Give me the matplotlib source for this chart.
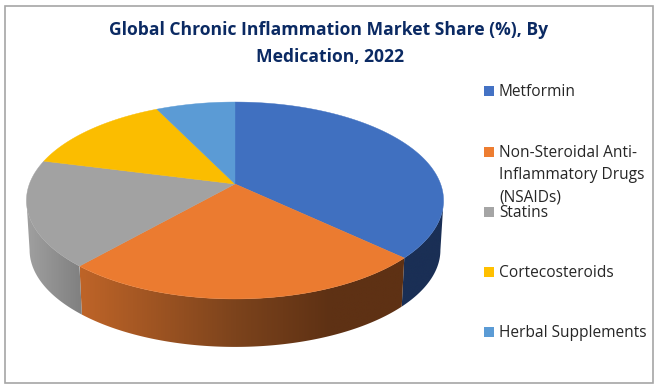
import numpy as np
import matplotlib
matplotlib.use('Agg')
import matplotlib.pyplot as plt
from matplotlib.colors import to_rgb
from matplotlib.patches import Polygon, Rectangle

labels = ['Metformin', 'Non-Steroidal Anti-\nInflammatory Drugs\n(NSAIDs)', 'Statins',
          'Cortecosteroids', 'Herbal Supplements']
shares = [37.0, 24.5, 17.5, 13.8, 7.2]
top_colors = ['#4070C0', '#EB7B30', '#A2A2A2', '#FBBD00', '#5B9BD5']
legend_colors = ['#4472C4', '#ED7D31', '#A5A5A5', '#FFC000', '#5B9BD5']
# wall colour from left to right, in picture x
wall_stops = [
    ([400, 445], ['#1A2F55', '#1A2F55']),
    ([80, 235, 330, 405], ['#BE6428', '#7C431C', '#5E3114', '#5E3114']),
    ([27, 85], ['#A0A0A0', '#7E7E7E']),
    ([27, 85], ['#A0A0A0', '#7E7E7E']),
    ([27, 85], ['#A0A0A0', '#7E7E7E']),
]
legend_y = [91, 152, 212, 272, 332]

# pie geometry in pixels, with a little perspective
CX, CY = 235, 184
RX, RY = 205.6, 95.7
PERSP = 0.1674
DEPTH = 49.7
BOTTOM_SCALE = 0.985


def project(theta, scale=1.0, drop=0.0):
    u, v = np.sin(theta), -np.cos(theta)
    k = scale / (1 - PERSP * v)
    return np.column_stack([CX + RX * u * k, CY + drop + RY * v * k])


def wall_gradient(stops, xs):
    rgb = np.array([to_rgb(c) for c in stops[1]])
    return np.stack([np.interp(xs, stops[0], rgb[:, i]) for i in range(3)], axis=-1)[None, :, :]


plt.rcParams['font.family'] = ['Open Sans', 'DejaVu Sans']

fig = plt.figure(figsize=(6.56, 3.86), dpi=100)
ax = fig.add_axes([0, 0, 1, 1])

# frame
ax.add_patch(Rectangle((4.5, 6), 648, 377, fill=False, ec='#A6A6A6', lw=1.2))

edges = np.deg2rad(np.cumsum([0] + shares) * 3.6)

# only the front of the wall shows, between the two widest points of the rim
front_start = np.arccos(-PERSP)
front_end = 2 * np.pi - front_start

# side wall: one gradient image per slice, clipped to the wall shape
for i in range(len(shares)):
    start, end = max(edges[i], front_start), min(edges[i + 1], front_end)
    if start >= end:
        continue
    th = np.linspace(start, end, 120)
    outline = np.vstack([project(th), project(th[::-1], BOTTOM_SCALE, DEPTH)])
    x0, x1 = outline[:, 0].min(), outline[:, 0].max()
    y0, y1 = outline[:, 1].min(), outline[:, 1].max()
    im = ax.imshow(wall_gradient(wall_stops[i], np.linspace(x0, x1, 256)),
                   extent=(x0, x1, y1, y0), aspect='auto', interpolation='bilinear')
    im.set_clip_path(Polygon(outline, transform=ax.transData))

# top face
for i in range(len(shares)):
    th = np.linspace(edges[i], edges[i + 1], 120)
    pts = np.vstack([[CX, CY], project(th)])
    ax.fill(pts[:, 0], pts[:, 1], color=top_colors[i], lw=0.3)

ax.text(329, 30, 'Global Chronic Inflammation Market Share (%), By',
        ha='center', va='center', fontsize=12.6, fontweight='bold', color='#0B2A63')
ax.text(329.5, 57, 'Medication, 2022',
        ha='center', va='center', fontsize=12.6, fontweight='bold', color='#0B2A63')

# legend
for name, col, y in zip(labels, legend_colors, legend_y):
    ax.add_patch(Rectangle((484, y - 5), 10, 10, fc=col, ec='none'))
    for k, line in enumerate(name.split('\n')):
        ax.text(499, y + 1 + k * 22, line, ha='left', va='center', fontsize=11.2, color='#262626')

ax.set_xlim(0, 656)
ax.set_ylim(386, 0)
ax.axis('off')

fig.savefig('out.png', dpi=100)
